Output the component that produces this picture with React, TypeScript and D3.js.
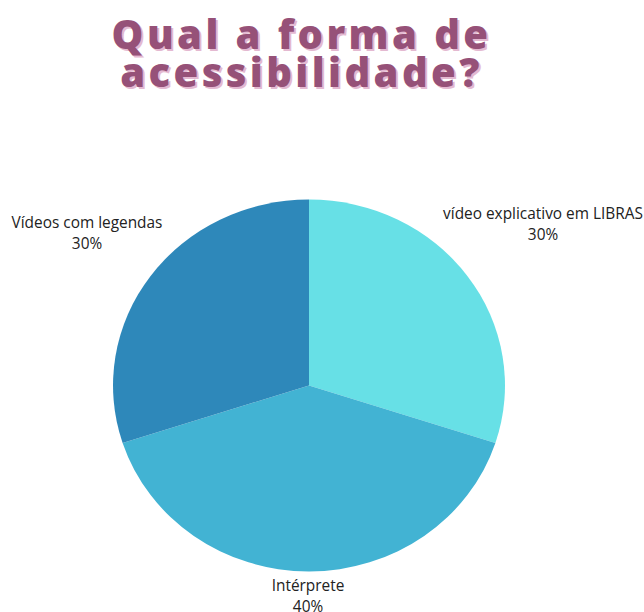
import React from "react";
import * as d3 from "d3";

const categories = ["vídeo explicativo em LIBRAS", "Intérprete", "Vídeos com legendas"];
const values = [30, 40, 30];
const colors = ["#67e0e6", "#42b3d3", "#2e88ba"];
const titleLines = ["Qual a forma de", "acessibilidade?"];

export default function App() {
  const W = 644, H = 612;
  const cx = 309, cy = 385.5, rx = 196, ry = 186;
  const pie = d3.pie<number>().sort(null).value((d) => d);
  const arcs = pie(values);
  const arc = d3.arc<d3.PieArcDatum<number>>().innerRadius(0).outerRadius(1);
  const labelPos = [
    { x: 543, y: 219 },
    { x: 308, y: 591 },
    { x: 87, y: 228 },
  ];
  const font = "'Open Sans', sans-serif";
  return (
    <svg width={W} height={H} style={{ position: "absolute", left: 0, top: 0 }}>
      <rect width={W} height={H} fill="#fff" />
      {titleLines.map((t, i) => (
        <g key={i}>
          <text x={303.5} y={50.5 + i * 38} textAnchor="middle" fontFamily={font} fontWeight={800} fontSize={40} letterSpacing={3.4} fill="#e4b9d1">{t}</text>
          <text x={301.5} y={48.5 + i * 38} textAnchor="middle" fontFamily={font} fontWeight={800} fontSize={40} letterSpacing={3.4} fill="#965178">{t}</text>
        </g>
      ))}
      <g transform={`translate(${cx},${cy}) scale(${rx},${ry})`}>
        {arcs.map((a, i) => (
          <path key={i} d={arc(a) as string} fill={colors[i]} />
        ))}
      </g>
      {categories.map((c, i) => (
        <text key={c} x={labelPos[i].x} y={labelPos[i].y} textAnchor="middle" fontFamily={font} fontSize={15.4} fill="#222">
          <tspan x={labelPos[i].x}>{c}</tspan>
          <tspan x={labelPos[i].x} dy={20.5}>{values[i]}%</tspan>
        </text>
      ))}
    </svg>
  );
}
